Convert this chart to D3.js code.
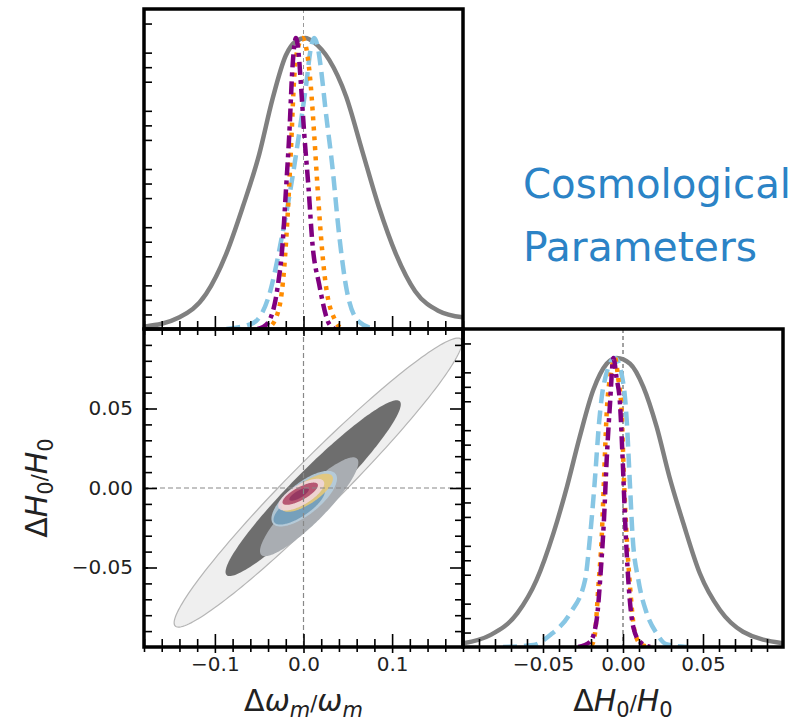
<!DOCTYPE html>
<html>
<head>
  <script src="https://d3js.org/d3.v7.min.js"></script>
</head>

<style>
body { margin: 0; background: white; }
text { font-family: "DejaVu Sans", sans-serif; }
</style>

<body>
</body>

<script>
    // 1D marginals: [value, normalised density]
    var omegaGray = [[-0.18,0.008],[-0.14,0.04],[-0.11,0.12],[-0.087,0.26],[-0.0685,0.42],[-0.05,0.60],[-0.035,0.79],[-0.02,0.94],[-0.008,0.99],[0.002,1.0],[0.012,0.985],[0.029,0.925],[0.048,0.80],[0.066,0.615],[0.085,0.42],[0.104,0.26],[0.126,0.13],[0.152,0.063],[0.18,0.04]];
    var omegaBlue = [[-0.087,0],[-0.057,0.02],[-0.0385,0.12],[-0.0236,0.33],[-0.012,0.53],[-0.005,0.67],[0.003,0.84],[0.008,0.96],[0.012,1.0],[0.016,0.97],[0.0195,0.90],[0.025,0.75],[0.0326,0.558],[0.040,0.33],[0.049,0.13],[0.0626,0.025],[0.081,0]];
    var omegaOrange = [[-0.045,0],[-0.0385,0.006],[-0.0273,0.075],[-0.0217,0.213],[-0.018,0.385],[-0.0142,0.615],[-0.0104,0.868],[-0.006,0.97],[-0.001,1.0],[0.004,0.95],[0.0083,0.833],[0.012,0.672],[0.0158,0.488],[0.0195,0.327],[0.025,0.155],[0.036,0.028],[0.044,0]];
    var omegaPurple = [[-0.052,0],[-0.046,0.006],[-0.0385,0.029],[-0.0292,0.144],[-0.0236,0.293],[-0.0198,0.477],[-0.016,0.672],[-0.0124,0.902],[-0.0086,1.0],[-0.005,0.93],[-0.003,0.845],[0.0008,0.672],[0.0056,0.488],[0.0101,0.293],[0.0176,0.155],[0.029,0.017],[0.036,0]];

    var hGray = [[-0.1,0.013],[-0.083,0.041],[-0.066,0.117],[-0.054,0.232],[-0.0435,0.393],[-0.035,0.555],[-0.027,0.728],[-0.0186,0.889],[-0.0102,0.98],[-0.004,1.0],[0.0044,0.98],[0.0127,0.90],[0.021,0.762],[0.029,0.589],[0.0377,0.428],[0.048,0.255],[0.0606,0.128],[0.075,0.053],[0.1,0.013]];
    var hBlue = [[-0.075,0],[-0.056,0.007],[-0.0456,0.041],[-0.033,0.117],[-0.0237,0.232],[-0.0206,0.382],[-0.0179,0.555],[-0.0148,0.785],[-0.0123,0.90],[-0.005,1.0],[0.0005,0.90],[0.0023,0.785],[0.0044,0.555],[0.006,0.382],[0.0096,0.232],[0.0148,0.117],[0.021,0.047],[0.027,0.01],[0.04,0]];
    var hOrange = [[-0.026,0],[-0.0196,0.007],[-0.0175,0.047],[-0.0154,0.209],[-0.0133,0.382],[-0.0119,0.578],[-0.0102,0.809],[-0.0075,0.95],[-0.005,1.0],[-0.003,0.93],[-0.0008,0.809],[0.0006,0.578],[0.0023,0.382],[0.0044,0.209],[0.0075,0.047],[0.0117,0.007],[0.018,0]];
    var hPurple = [[-0.028,0],[-0.0206,0.018],[-0.0165,0.093],[-0.014,0.255],[-0.0119,0.44],[-0.0102,0.647],[-0.0081,0.843],[-0.006,1.0],[-0.004,0.93],[-0.0019,0.843],[-0.0002,0.647],[0.0013,0.44],[0.0033,0.232],[0.0064,0.07],[0.0106,0.018],[0.017,0]];

    // 2D contours: [centre omega, centre H, half-width omega, half-width H, correlation]
    var contours = [
      [0.0165, 0.0034, 0.1625, 0.0909, 0.970],
      [0.0109, -0.0001, 0.0989, 0.0553, 0.953],
      [0.0064, -0.0118, 0.0555, 0.0311, 0.895],
      [0.0008, -0.0067, 0.037, 0.0175, 0.72],
      [-0.0048, -0.011, 0.029, 0.012, 0.74],
      [0.0042, -0.003, 0.029, 0.012, 0.74],
      [-0.0026, -0.0042, 0.026, 0.0100, 0.70],
      [-0.0037, -0.0036, 0.020, 0.0070, 0.76],
      [-0.005, -0.004, 0.011, 0.0040, 0.76]
    ];
    var contourFill = ["#efefef", "#6e6e6e", "#a9adb2", "#b6cddc", "#6f9bb8", "#e6c878", "#efd6dc", "#b04a68", "#923560"];

    var omegaTicks = [-0.1, 0.0, 0.1];
    var hTicks = [-0.05, 0.0, 0.05];

    var svg = d3.select("body")
      .append("svg")
      .attr("width", 811)
      .attr("height", 721);

    svg.append("rect").attr("width", 811).attr("height", 721).attr("fill", "white");

    var L = 144, M = 463, R = 783, T = 9, C = 329, B = 647;

    var xW = d3.scaleLinear().domain([-0.18, 0.18]).range([L, M]);
    var yH = d3.scaleLinear().domain([-0.1, 0.1]).range([B, C]);
    var xH = d3.scaleLinear().domain([-0.1, 0.1]).range([M, R]);
    var yTop = d3.scaleLinear().domain([0, 1.1]).range([C, T]);
    var yRight = d3.scaleLinear().domain([0, 1.1]).range([B, C]);

    var defs = svg.append("defs");
    function clip(id, x, y, w, h) {
      defs.append("clipPath").attr("id", id).append("rect")
        .attr("x", x).attr("y", y).attr("width", w).attr("height", h);
    }
    clip("cTop", L, T, M - L, C - T);
    clip("cMid", L, C, M - L, B - C);
    clip("cRight", M, C, R - M, B - C);

    // contours
    var gMid = svg.append("g").attr("clip-path", "url(#cMid)");
    var angles = d3.range(0, 2 * Math.PI + 0.01, Math.PI / 90);
    contours.forEach(function(c, i) {
      var pts = angles.map(function(t) {
        return [xW(c[0] + c[2] * Math.cos(t)),
                yH(c[1] + c[3] * (c[4] * Math.cos(t) + Math.sqrt(1 - c[4] * c[4]) * Math.sin(t)))];
      });
      gMid.append("path")
        .attr("d", d3.line()(pts) + "Z")
        .attr("fill", contourFill[i])
        .attr("fill-opacity", i > 2 ? 0.9 : 1)
        .attr("stroke", i == 0 ? "#b5b5b5" : "none")
        .attr("stroke-width", 1.2);
    });
    gMid.append("line").attr("x1", xW(0)).attr("x2", xW(0)).attr("y1", C).attr("y2", B)
      .attr("stroke", "#888").attr("stroke-width", 1.2).attr("stroke-dasharray", "5,3");
    gMid.append("line").attr("x1", L).attr("x2", M).attr("y1", yH(0)).attr("y2", yH(0))
      .attr("stroke", "#888").attr("stroke-width", 1.2).attr("stroke-dasharray", "5,3");

    // marginals
    var styles = [
      {color: "#808080", dash: null},
      {color: "#87c6e4", dash: "14,7"},
      {color: "#ff8c00", dash: "4,6"},
      {color: "#800080", dash: "13,5,4,5"}
    ];

    function drawMarginal(clipId, xs, ys, series, zeroColor) {
      var g = svg.append("g").attr("clip-path", "url(#" + clipId + ")");
      g.append("line").attr("x1", xs(0)).attr("x2", xs(0))
        .attr("y1", ys.range()[1]).attr("y2", ys.range()[0])
        .attr("stroke", zeroColor).attr("stroke-width", 1).attr("stroke-dasharray", "4,3");
      var line = d3.line()
        .x(function(d) { return xs(d[0]); })
        .y(function(d) { return ys(d[1]); })
        .curve(d3.curveMonotoneX);
      series.forEach(function(s, i) {
        g.append("path")
          .attr("d", line(s))
          .attr("fill", "none")
          .attr("stroke", styles[i].color)
          .attr("stroke-width", 4.5)
          .attr("stroke-dasharray", styles[i].dash);
      });
    }
    drawMarginal("cTop", xW, yTop, [omegaGray, omegaBlue, omegaOrange, omegaPurple], "#999");
    drawMarginal("cRight", xH, yRight, [hGray, hBlue, hOrange, hPurple], "#444");

    // ticks: inner and outer part drawn by two axes
    function ticks(axisFn, scale, values, inner, outer, transform) {
      [-inner, outer].forEach(function(len) {
        if (len == 0) return;
        var a = axisFn(scale).tickValues(values).tickSizeInner(len).tickSizeOuter(0).tickFormat("");
        var g = svg.append("g").attr("transform", transform).call(a);
        g.select(".domain").remove();
        g.selectAll("line").attr("stroke", "#000").attr("stroke-width", 1.6);
      });
    }
    function isMajor(v, step) { return Math.abs(v / step - Math.round(v / step)) < 1e-6; }

    var wAll = d3.range(-18, 19, 2).map(function(v) { return v / 100; });
    var wMinor = wAll.filter(function(v) { return !isMajor(v, 0.1); });
    var hAll = d3.range(-10, 11, 1).map(function(v) { return v / 100; });
    var hMinor = hAll.filter(function(v) { return !isMajor(v, 0.05); });
    var dMinor = d3.range(1, 22).map(function(v) { return v * 0.05; }).filter(function(v) { return !isMajor(v, 0.2); });

    // top panel
    ticks(d3.axisBottom, xW, wMinor, 8, 6, "translate(0," + C + ")");
    ticks(d3.axisBottom, xW, omegaTicks, 13, 7, "translate(0," + C + ")");
    ticks(d3.axisLeft, yTop, dMinor, 0, -8, "translate(" + L + ",0)");
    // mid panel
    ticks(d3.axisBottom, xW, wMinor, 8, 5, "translate(0," + B + ")");
    ticks(d3.axisBottom, xW, omegaTicks, 13, 6, "translate(0," + B + ")");
    ticks(d3.axisLeft, yH, hMinor, 0, -8, "translate(" + L + ",0)");
    ticks(d3.axisLeft, yH, hTicks, 4, -13, "translate(" + L + ",0)");
    ticks(d3.axisRight, yH, hMinor, 0, -8, "translate(" + M + ",0)");
    ticks(d3.axisRight, yH, hTicks, 0, -13, "translate(" + M + ",0)");
    // right panel
    ticks(d3.axisBottom, xH, hMinor, 8, 5, "translate(0," + B + ")");
    ticks(d3.axisBottom, xH, hTicks, 13, 6, "translate(0," + B + ")");
    ticks(d3.axisRight, yRight, dMinor, 0, 8, "translate(" + M + ",0)");

    // frames
    [[L, T, M - L, C - T], [L, C, M - L, B - C], [M, C, R - M, B - C]].forEach(function(r) {
      svg.append("rect").attr("x", r[0]).attr("y", r[1]).attr("width", r[2]).attr("height", r[3])
        .attr("fill", "none").attr("stroke", "#000").attr("stroke-width", 3.5);
    });

    // tick labels
    function labels(axisFn, scale, values, fmt, transform, pad) {
      var g = svg.append("g").attr("transform", transform)
        .call(axisFn(scale).tickValues(values).tickSize(0).tickPadding(pad).tickFormat(d3.format(fmt)));
      g.select(".domain").remove();
      g.selectAll("text").attr("font-size", 20).attr("fill", "#222")
        .attr("font-family", "DejaVu Sans");
    }
    labels(d3.axisBottom, xW, omegaTicks, ".1f", "translate(0," + B + ")", 10);
    labels(d3.axisBottom, xH, hTicks, ".2f", "translate(0," + B + ")", 10);
    labels(d3.axisLeft, yH, hTicks, ".2f", "translate(" + L + ",0)", 11);

    // axis titles
    function mathLabel(g, parts) {
      var t = g.append("text").attr("font-size", 30).attr("fill", "#222").attr("text-anchor", "middle");
      parts.forEach(function(p) {
        var s = t.append("tspan").text(p[0]);
        if (p[1] == "i") s.attr("font-style", "italic");
        if (p[2]) s.attr("font-size", 21).attr("dy", p[2]);
      });
      return t;
    }
    mathLabel(svg.append("g").attr("transform", "translate(" + xW(0) + ",711)"),
      [["Δ"], ["ω", "i"], ["m", "i", 6], ["/", null, -6], ["ω", "i"], ["m", "i", 6]]);
    mathLabel(svg.append("g").attr("transform", "translate(" + xH(0) + ",711)"),
      [["Δ"], ["H", "i"], ["0", null, 6], ["/", null, -6], ["H", "i"], ["0", null, 6]]);
    mathLabel(svg.append("g").attr("transform", "translate(47," + yH(0) + ") rotate(-90)"),
      [["Δ"], ["H", "i"], ["0", null, 6], ["/", null, -6], ["H", "i"], ["0", null, 6]]);

    // title
    var title = svg.append("g").attr("fill", "#2b83c6")
      .attr("font-size", 41).attr("font-family", "Lato");
    title.append("text").attr("x", 523).attr("y", 198).text("Cosmological")
      .attr("textLength", 268).attr("lengthAdjust", "spacingAndGlyphs");
    title.append("text").attr("x", 523).attr("y", 261).text("Parameters")
      .attr("textLength", 234).attr("lengthAdjust", "spacingAndGlyphs");
</script>
</html>
